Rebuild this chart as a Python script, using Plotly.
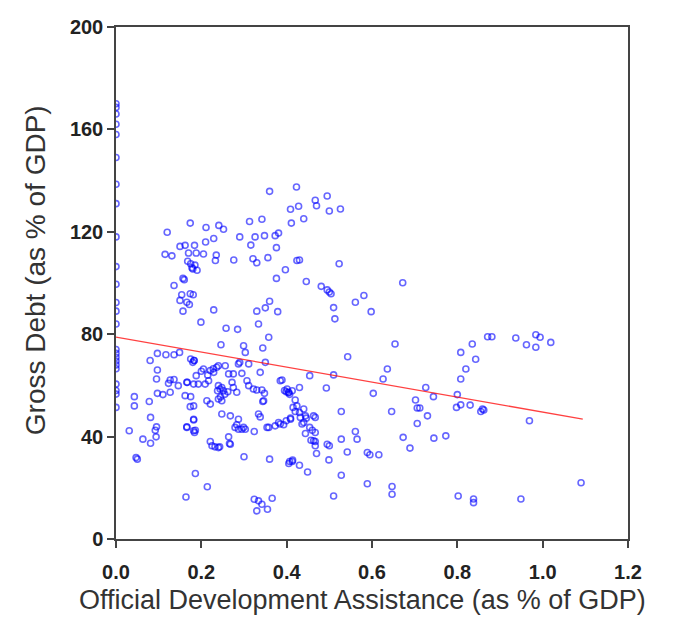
import plotly.graph_objects as go

# Points on the y-axis (ODA = 0)
oda_zero = [0.0] * 24
debt_zero = [170, 168.6, 166, 162, 158, 149, 138.6, 131, 118, 106.4, 99.5, 92.4, 89, 84,
             74, 72.5, 71, 69.5, 68, 66.5, 60.5, 58, 56.6, 51.4]

oda = [
    0.36, 0.423, 0.409, 0.428, 0.411, 0.12, 0.174, 0.211, 0.241, 0.252, 0.313, 0.342,
    0.29, 0.326, 0.348, 0.373, 0.381, 0.229, 0.21, 0.150, 0.162, 0.184, 0.316, 0.376,
    0.115, 0.131, 0.17, 0.188, 0.205, 0.235, 0.233, 0.276, 0.321, 0.33, 0.356,
    0.175, 0.18, 0.185, 0.19, 0.178, 0.168, 0.397, 0.43, 0.157, 0.376,
    0.136, 0.160, 0.154, 0.181, 0.174, 0.150, 0.166, 0.172, 0.157, 0.229, 0.199,
    0.258, 0.285, 0.330, 0.350, 0.379, 0.36, 0.334, 0.424,
    0.467, 0.47, 0.495, 0.5, 0.526, 0.44, 0.523, 0.446, 0.481, 0.495, 0.504, 0.50,
    0.51, 0.513, 0.561, 0.581, 0.598, 0.672, 0.654, 0.543, 0.808, 0.835, 0.843,
    0.871, 0.881, 0.937, 0.984, 0.994, 0.962, 0.984, 1.019, 0.82, 0.808,
    0.83, 0.859, 0.855, 0.862, 0.808, 0.969, 1.09, 0.838, 0.949,
    0.636, 0.626, 0.726, 0.744, 0.8, 0.798, 0.702, 0.706, 0.712, 0.73, 0.706,
    0.603, 0.646, 0.51, 0.454, 0.493, 0.528, 0.561, 0.565, 0.528, 0.5, 0.542,
    0.589, 0.595, 0.616, 0.673, 0.689, 0.745, 0.773, 0.499, 0.528, 0.589,
    0.647, 0.647, 0.51, 0.802, 0.838,
    0.389, 0.404, 0.407, 0.413, 0.43, 0.42, 0.424, 0.415, 0.42, 0.44, 0.444, 0.43,
    0.463, 0.467, 0.399, 0.409, 0.385, 0.44, 0.446, 0.436, 0.454, 0.46, 0.467,
    0.444, 0.457, 0.467, 0.47, 0.407, 0.414, 0.43, 0.449,
    0.358, 0.246, 0.299, 0.303, 0.344, 0.08, 0.097, 0.117, 0.136, 0.149, 0.175,
    0.183, 0.097, 0.095, 0.127, 0.123, 0.136, 0.146, 0.167, 0.097, 0.11, 0.127,
    0.043, 0.043, 0.078, 0.081, 0.095, 0.092, 0.031, 0.063, 0.081, 0.094, 0.047,
    0.05, 0.175, 0.174, 0.182, 0.184, 0.186, 0.166, 0.186, 0.214, 0.164,
    0.221, 0.232, 0.243, 0.264, 0.266, 0.3, 0.36,
    0.324, 0.334, 0.33, 0.342, 0.355, 0.366, 0.324, 0.283, 0.279, 0.299, 0.334,
    0.338, 0.354, 0.373, 0.393, 0.409, 0.405, 0.413, 0.344, 0.348, 0.401, 0.405,
    0.18, 0.183, 0.236, 0.24, 0.256, 0.287, 0.29, 0.311, 0.35, 0.205, 0.221,
    0.229, 0.264, 0.275, 0.295, 0.338, 0.188, 0.166, 0.182, 0.193, 0.209, 0.217,
    0.24, 0.244, 0.248, 0.252, 0.238, 0.272, 0.275, 0.283, 0.307, 0.311, 0.322,
    0.33, 0.342, 0.385, 0.162, 0.213, 0.221, 0.24, 0.248, 0.182, 0.346,
    0.248, 0.268, 0.287, 0.182, 0.303, 0.358, 0.381, 0.432, 0.166, 0.182,
    0.225, 0.24, 0.268, 0.287, 0.295, 0.463, 0.467, 0.495, 0.395, 0.399,
    0.255, 0.262, 0.245, 0.228, 0.2, 0.215,
]

debt = [
    135.8, 137.5, 128.8, 130, 123.4, 119.8, 123.4, 121.7, 122.5, 121, 124, 124.9,
    118, 118, 118.5, 118.5, 119.5, 117.4, 116, 114.3, 114.7, 114.7, 114.8, 113.8,
    111.2, 110.6, 111.7, 111.7, 111.3, 110.9, 108.8, 109, 109.5, 107.9, 109.9,
    107.5, 105.5, 107, 105, 106, 108.5, 105.2, 109, 101.8, 101.8,
    99, 101.3, 95.4, 95.4, 95.8, 93.2, 92.5, 91.6, 89, 89.5, 84.7,
    82.3, 81.9, 89, 90.3, 88.8, 92.9, 84, 108.8,
    132.3, 130.2, 134, 128.1, 128.9, 125.1, 107.5, 100.6, 98.7, 97.3, 95.8, 96.5,
    90.4, 86, 92.5, 95.1, 88.8, 100.1, 76.2, 71.2, 72.9, 76.2, 70.2,
    79, 79, 78.5, 79.8, 78.8, 75.9, 74.9, 76.8, 66.4, 62.5,
    52.3, 50.8, 49.8, 50.4, 52.4, 46.2, 22, 15.6, 15.6,
    66.4, 62.5, 59.2, 55.6, 56.4, 51.4, 54.3, 51.2, 51.2, 48.1, 45.1,
    56.9, 49.8, 64.1, 63.8, 59, 49.8, 42, 39, 39, 36.4, 34,
    33.8, 32.9, 32.9, 39.7, 35.5, 39.4, 40.3, 30.9, 24.9, 21.6,
    20.5, 17.5, 16.8, 16.8, 14.2,
    62.1, 57.1, 56.5, 57.9, 59.2, 54.3, 52, 51.4, 49.8, 50.8, 48.1, 49.4,
    48.1, 47.5, 46.2, 46.8, 44.9, 45.5, 47.2, 44.9, 43.6, 42.5, 41.6,
    41.2, 38.6, 38.1, 33.4, 30.3, 30.8, 28.8, 26.2,
    78.8, 75.9, 75.5, 72.9, 74.6, 69.7, 72.5, 72, 72, 72.9, 70.3,
    69.7, 66, 62.5, 62.1, 60.8, 62.3, 59.9, 61.2, 56.9, 56.4, 57.3,
    55.6, 52, 53.7, 47.5, 43.8, 42.5, 42.3, 39, 37.4, 39.9, 31.8,
    31.2, 55.6, 51.7, 46.5, 41.6, 42.5, 43.8, 25.6, 20.4, 16.4,
    38.1, 36, 36, 39.9, 37.3, 32.1, 31.2,
    15.5, 14.9, 11, 13.6, 11.6, 15.9, 42, 44.6, 43.6, 43.6, 48.8,
    47.7, 43.6, 44.2, 44.6, 47.2, 29.5, 30.3, 53.7, 56.9, 58.6, 57.3,
    69, 69.7, 67.1, 67.7, 67.7, 68.4, 69, 68.4, 69, 66.4, 65.8,
    65.1, 64.5, 64.5, 64.7, 65.1, 63.8, 61.2, 60.5, 60.5, 60.5, 61.8,
    59.9, 58.6, 59.2, 57.9, 57.9, 61.2, 59.2, 57.3, 61.8, 59.9, 58.6,
    58.2, 58.2, 61.8, 56, 54, 52.7, 54.7, 54, 52, 54,
    48.8, 48.1, 46.8, 46.8, 42.9, 43.6, 45.5, 47.5, 43.6, 42.3,
    36.4, 35.7, 37, 42.9, 42.9, 38.4, 36.4, 37, 58.0, 57.5,
    56.5, 57.5, 55.5, 66.5, 65.5, 64.0,
]

# Fitted regression line endpoints
fit_x = [0.0, 1.094]
fit_y = [78.9, 46.8]

x_ticks = [0.0, 0.2, 0.4, 0.6, 0.8, 1.0, 1.2]
y_ticks = [0, 40, 80, 120, 160, 200]

x_title = "Official Development Assistance (as % of GDP)"
y_title = "Gross Debt (as % of GDP)"

marker_style = dict(symbol="circle-open", size=6,
                    color="rgba(0,0,255,0.6)", line=dict(width=1.6, color="rgba(0,0,255,0.6)"))

fig = go.Figure()
fig.add_trace(go.Scatter(x=oda_zero + oda, y=debt_zero + debt, mode="markers",
                         marker=marker_style, showlegend=False))
fig.add_trace(go.Scatter(x=fit_x, y=fit_y, mode="lines",
                         line=dict(color="rgba(255,0,0,0.75)", width=1.3), showlegend=False))

tickfont = dict(family="Liberation Sans, Arial, sans-serif", size=20, color="#222")
xtitlefont = dict(family="Liberation Sans, Arial, sans-serif", size=27, color="#333")
ytitlefont = dict(family="Liberation Sans, Arial, sans-serif", size=28, color="#333")

fig.update_layout(
    width=659, height=608,
    margin=dict(l=108, r=39, t=19, b=77),
    paper_bgcolor="white", plot_bgcolor="white",
    xaxis=dict(range=[0, 1.2], tickvals=x_ticks, ticktext=[f"<b>{v:.1f}</b>" for v in x_ticks],
               showgrid=False, zeroline=False, showline=True, linecolor="#444", linewidth=1.5,
               mirror=True, ticks="outside", ticklen=7, tickcolor="#444", tickwidth=1.5,
               tickfont=tickfont, ticklabelstandoff=7, automargin=False),
    yaxis=dict(range=[0, 200], tickvals=y_ticks, ticktext=[f"<b>{v}</b>" for v in y_ticks],
               showgrid=False, zeroline=False, showline=True, linecolor="#444", linewidth=1.5,
               mirror=True, ticks="outside", ticklen=7, tickcolor="#444", tickwidth=1.5,
               tickfont=tickfont, automargin=False),
    annotations=[
        dict(text=x_title, xref="paper", yref="paper", x=0.482, y=0, yshift=-61,
             xanchor="center", yanchor="middle", showarrow=False, font=xtitlefont),
        dict(text=y_title, xref="paper", yref="paper", x=0, y=0.525, xshift=-81,
             xanchor="center", yanchor="middle", textangle=-90, showarrow=False, font=ytitlefont),
    ],
)

fig.write_html("out.html")
